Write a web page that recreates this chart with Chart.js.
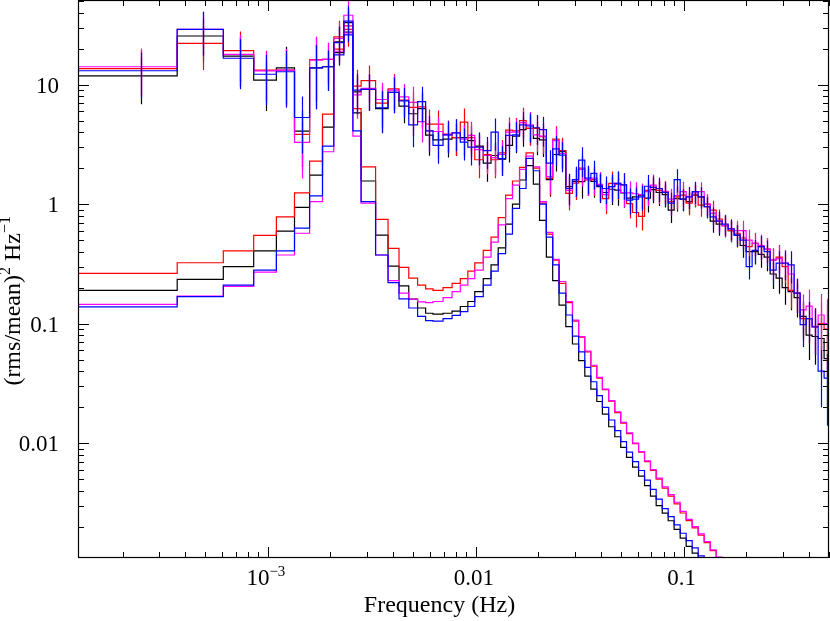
<!DOCTYPE html>
<html><head><meta charset="utf-8">
<script src="https://cdn.jsdelivr.net/npm/chart.js@4/dist/chart.umd.min.js"></script>
<style>html,body{margin:0;padding:0;background:#fff;}canvas{display:block;}</style>
</head><body>
<canvas id="c" width="830" height="621"></canvas>
<script>
// Frequency resolution (Hz per Fourier bin); bin edges are given in units of it
const FREQ_RES = 1 / 8192;
const binEdges = [1,3,5,7,9,11,13,15,17,19,21,23,27,31,35,39,43,47,51,57,63,69,75,81,89,97,105,114,123,133,143,155,166,179,192,206,222,239,256,274,293,313,333,357,382,408,435,465,497,531,567,604,646,690,737,788,842,900,962,1028,1099,1174,1255,1341,1433,1531,1636,1748,1869,1997,2134,2281,2438,2605,2784,2975,3179,3398,3631,3880,4096];

// Observed power spectra, (rms/mean)^2 Hz^-1
const dataBlack = [11.8,25.5,17.3,10.9,13.8,4.08,13.8,14.1,22.8,33,
  8.7,9.1,6.3,8.6,6.6,5.7,6.3,3.78,3.44,3.5,
  3.6,3.6,3.4,3.05,2.2,2.55,2.38,3.1,3.7,4.2,
  4.3,3.55,3.44,1.6,2.6,2.75,1.4,1.55,1.54,1.6,
  1.55,1.4,1.25,1.33,1.31,1.24,1.12,1.15,1.19,1.12,
  1.32,1.25,1.2,0.89,1.11,1.1,1.05,1.19,1.15,0.95,
  0.72,0.68,0.66,0.6,0.55,0.45,0.4,0.4,0.38,0.36,
  0.26,0.24,0.2,0.185,0.165,0.115,0.08,0.078,0.075,0.051];
const dataRed = [13.6,22.1,19.2,13.2,13.2,3.83,16.2,16.2,25.1,31,
  9.7,10.8,7.0,9.2,7.4,6.45,6.5,4.66,4.66,3.85,
  3.6,4.85,3.6,2.35,2.6,2.35,2.68,4.15,4.1,5.0,
  4.3,4.3,3.66,1.64,3.5,2.8,1.23,1.5,2.0,1.6,
  1.6,1.44,1.11,1.49,1.47,1.45,1.01,0.85,0.79,1.3,
  1.38,1.3,1.27,1.05,1.15,1.19,1.02,1.19,0.98,1.0,
  0.89,0.75,0.66,0.6,0.57,0.52,0.44,0.47,0.44,0.42,
  0.34,0.36,0.3,0.19,0.18,0.11,0.11,0.094,0.1,0.09];
const dataMagenta = [14.1,29,17.9,13.0,13.2,3.28,16.0,16.3,24.3,38,
  8.2,9.3,7.5,9.0,7.9,7.1,4.9,4.1,4.05,3.8,
  3.95,3.5,3.75,2.85,2.55,2.45,2.6,4.0,4.0,4.8,
  4.6,3.8,3.7,1.7,3.4,2.65,1.3,1.6,1.95,1.6,
  1.65,1.46,1.2,1.4,1.49,1.25,1.24,1.22,1.2,1.27,
  1.44,1.35,1.28,1.1,1.18,1.27,1.15,1.24,1.27,1.0,
  0.84,0.72,0.66,0.62,0.6,0.6,0.5,0.47,0.45,0.42,
  0.34,0.35,0.32,0.26,0.18,0.13,0.14,0.095,0.118,0.1];
const dataBlue = [13.05,29,16.6,12.2,12.8,5.3,13.8,14.1,22.4,34,
  9.0,9.1,6.4,8.6,7.3,4.6,7.2,4.1,3.1,3.8,
  3.95,3.3,3.0,3.0,2.8,4.0,2.4,3.75,3.8,4.6,
  4.5,4.35,4.2,2.2,2.9,2.57,1.35,1.6,2.33,1.65,
  1.81,1.42,1.35,1.4,1.49,1.45,1.08,1.1,1.15,1.41,
  1.38,1.35,1.25,1.02,1.6,1.1,1.15,1.27,1.15,0.95,
  0.78,0.72,0.68,0.62,0.55,0.5,0.3,0.41,0.44,0.4,
  0.28,0.32,0.32,0.31,0.18,0.098,0.11,0.094,0.04,0.035];
// Relative 1-sigma uncertainty of each frequency bin
const relErr = [0.42,0.4,0.45,0.45,0.5,0.5,0.55,0.37,0.36,0.33,
  0.37,0.34,0.38,0.33,0.28,0.35,0.33,0.33,0.3,0.3,
  0.3,0.3,0.3,0.3,0.3,0.3,0.28,0.28,0.28,0.28,
  0.28,0.28,0.28,0.28,0.28,0.28,0.28,0.28,0.28,0.27,
  0.27,0.27,0.26,0.26,0.26,0.25,0.25,0.25,0.24,0.24,
  0.23,0.23,0.22,0.22,0.22,0.21,0.21,0.21,0.2,0.2,
  0.2,0.2,0.2,0.2,0.21,0.21,0.22,0.22,0.23,0.24,
  0.25,0.26,0.28,0.3,0.32,0.35,0.38,0.42,0.5,0.6];

// Model components (QPO Lorentzians), same binning; end once below the axis
const modelBlack = [0.19,0.234,0.3,0.406,0.594,0.94,1.75,4.4,18.5,27.5,
  5.8,1.56,0.55,0.303,0.207,0.16,0.135,0.122,0.12,0.122,
  0.127,0.139,0.153,0.185,0.238,0.31,0.43,0.68,1.0,1.59,
  2.1,1.47,0.73,0.36,0.229,0.143,0.0945,0.0675,0.049,0.0364,
  0.0283,0.0223,0.0175,0.0137,0.0113,0.0092,0.0076,0.0063,0.0053,0.0044,
  0.0036,0.003,0.00259,0.00224,0.0019,0.0016,0.00137,0.0012,0.00102];
const modelRed = [0.263,0.323,0.406,0.547,0.78,1.24,2.29,5.66,19.8,29,
  6.3,2.05,0.745,0.426,0.295,0.24,0.21,0.195,0.19,0.2,
  0.217,0.238,0.275,0.322,0.41,0.53,0.77,1.19,1.56,2.03,
  2.68,2.0,1.02,0.56,0.34,0.217,0.15,0.105,0.077,0.058,
  0.044,0.035,0.028,0.0224,0.018,0.0147,0.012,0.0099,0.0084,0.007,
  0.0059,0.005,0.0042,0.0036,0.0031,0.0026,0.00225,0.00195,0.0017,0.00147,
  0.00126,0.0011,0.00095];
const modelMagenta = [0.145,0.17,0.205,0.27,0.375,0.57,1.05,2.74,19.0,27,
  3.7,1.02,0.375,0.229,0.18,0.16,0.152,0.15,0.153,0.165,
  0.185,0.21,0.238,0.28,0.36,0.48,0.67,1.11,1.44,1.95,
  2.52,2.05,1.05,0.58,0.345,0.225,0.153,0.107,0.078,0.059,
  0.0448,0.0355,0.0283,0.0227,0.0183,0.0149,0.0122,0.01,0.0085,0.0071,
  0.006,0.0051,0.0043,0.0037,0.0032,0.00268,0.0023,0.002,0.00174,0.0015,
  0.00128,0.00111,0.00096];
const modelBlue = [0.138,0.168,0.21,0.28,0.406,0.63,1.17,3.06,17.7,26,
  4.1,1.05,0.375,0.22,0.161,0.135,0.115,0.106,0.105,0.11,
  0.117,0.126,0.139,0.168,0.21,0.275,0.385,0.56,0.92,1.35,
  2.41,1.9,1.0,0.53,0.31,0.18,0.118,0.0785,0.058,0.043,
  0.0326,0.025,0.0199,0.0156,0.0127,0.0103,0.0084,0.007,0.0059,0.0049,
  0.0041,0.0034,0.00283,0.00243,0.00207,0.00176,0.00153,0.00133,0.00114,0.00098];

const xTickValues = [0.001, 0.01, 0.1];
const xTickLabels = ['10^{−3}', '0.01', '0.1'];
const yTickValues = [0.01, 0.1, 1, 10];
const yTickLabels = ['0.01', '0.1', '1', '10'];
const xTitle = 'Frequency (Hz)';
const yTitle = '(rms/mean)^{2} Hz^{−1}';

const series = [
  {data: dataBlack, model: modelBlack, color: '#000000'},
  {data: dataRed, model: modelRed, color: '#ff0000'},
  {data: dataMagenta, model: modelMagenta, color: '#ff00ff'},
  {data: dataBlue, model: modelBlue, color: '#0000ff'}
];

function steps(vals) {
  const pts = vals.map((v, i) => ({x: binEdges[i] * FREQ_RES, y: v}));
  if (vals.length === binEdges.length - 1) {
    pts.push({x: binEdges[vals.length] * FREQ_RES, y: vals[vals.length - 1]});
  }
  return pts;
}

const FONT = '"Liberation Serif", "Times New Roman", serif';
function drawRich(ctx, text, x, y, size, align) {
  const parts = [];
  const re = /\^\{([^}]*)\}/g;
  let last = 0, m;
  while ((m = re.exec(text))) {
    if (m.index > last) parts.push({t: text.slice(last, m.index), sup: false});
    parts.push({t: m[1], sup: true});
    last = re.lastIndex;
  }
  if (last < text.length) parts.push({t: text.slice(last), sup: false});
  const supSize = Math.round(size * 0.65);
  let total = 0;
  parts.forEach(p => {
    ctx.font = (p.sup ? supSize : size) + 'px ' + FONT;
    p.w = ctx.measureText(p.t).width;
    total += p.w;
  });
  let cx = align === 'center' ? x - total / 2 : (align === 'right' ? x - total : x);
  ctx.textAlign = 'left';
  ctx.textBaseline = 'alphabetic';
  parts.forEach(p => {
    ctx.font = (p.sup ? supSize : size) + 'px ' + FONT;
    ctx.fillText(p.t, cx, p.sup ? y - size * 0.4 : y);
    cx += p.w;
  });
}

const LW = 1.2;
const decor = {
  id: 'decor',
  afterDatasetsDraw(chart) {
    const {ctx, chartArea: a, scales: {x, y}} = chart;
    ctx.save();
    ctx.beginPath();
    ctx.rect(a.left, a.top, a.right - a.left, a.bottom - a.top);
    ctx.clip();
    ctx.lineWidth = LW;
    series.forEach(s => {
      ctx.strokeStyle = s.color;
      ctx.beginPath();
      s.data.forEach((v, i) => {
        const fc = (binEdges[i] + binEdges[i + 1]) / 2 * FREQ_RES;
        const px = Math.round(x.getPixelForValue(fc)) + 0.5;
        const e = relErr[i] * v;
        ctx.moveTo(px, y.getPixelForValue(v + e));
        ctx.lineTo(px, y.getPixelForValue(v - e));
      });
      ctx.stroke();
    });
    ctx.restore();
  },
  afterDraw(chart) {
    const {ctx, chartArea: a, scales: {x, y}} = chart;
    ctx.save();
    ctx.strokeStyle = '#000';
    ctx.fillStyle = '#000';
    ctx.lineWidth = 1.2;
    ctx.strokeRect(a.left + 0.5, a.top + 0.5, a.right - a.left - 1, a.bottom - a.top - 1);
    ctx.lineWidth = 1;
    ctx.beginPath();
    for (let d = -5; d <= 1; d++) {
      for (let m = 1; m <= 9; m++) {
        const v = m * Math.pow(10, d);
        const len = m === 1 ? 11 : 6;
        if (v >= x.min * 0.999 && v <= x.max * 1.001) {
          const px = Math.round(x.getPixelForValue(v)) + 0.5;
          ctx.moveTo(px, a.bottom); ctx.lineTo(px, a.bottom - len);
          ctx.moveTo(px, a.top); ctx.lineTo(px, a.top + len);
        }
        if (v >= y.min * 0.999 && v <= y.max * 1.001) {
          const py = Math.round(y.getPixelForValue(v)) + 0.5;
          ctx.moveTo(a.left, py); ctx.lineTo(a.left + len, py);
          ctx.moveTo(a.right, py); ctx.lineTo(a.right - len, py);
        }
      }
    }
    ctx.stroke();
    xTickValues.forEach((v, i) => {
      drawRich(ctx, xTickLabels[i], x.getPixelForValue(v) - 2, 585, 23, 'center');
    });
    yTickValues.forEach((v, i) => {
      drawRich(ctx, yTickLabels[i], 59, y.getPixelForValue(v) + 8, 23, 'right');
    });
    drawRich(ctx, xTitle, 439.5, 612, 24, 'center');
    ctx.translate(19.5, 300.8);
    ctx.rotate(-Math.PI / 2);
    drawRich(ctx, yTitle, 0, 0, 24, 'center');
    ctx.restore();
  }
};

const datasets = [];
series.slice().reverse().forEach(s => {
  datasets.push({data: steps(s.data), borderColor: s.color, borderWidth: LW, stepped: true, fill: false, pointRadius: 0, spanGaps: false});
  datasets.push({data: steps(s.model), borderColor: s.color, borderWidth: LW, stepped: true, fill: false, pointRadius: 0, spanGaps: false});
});

new Chart(document.getElementById('c'), {
  type: 'line',
  data: {datasets},
  options: {
    responsive: false,
    animation: false,
    devicePixelRatio: 1,
    events: [],
    layout: {padding: {left: 78, right: 1, top: 0, bottom: 63}},
    scales: {
      x: {type: 'logarithmic', min: 1 / 8192, max: 0.5, display: false},
      y: {type: 'logarithmic', min: 0.001093, max: 51, display: false}
    },
    plugins: {legend: {display: false}, tooltip: {enabled: false}},
    elements: {point: {radius: 0}, line: {tension: 0}}
  },
  plugins: [decor]
});
</script>
</body></html>
